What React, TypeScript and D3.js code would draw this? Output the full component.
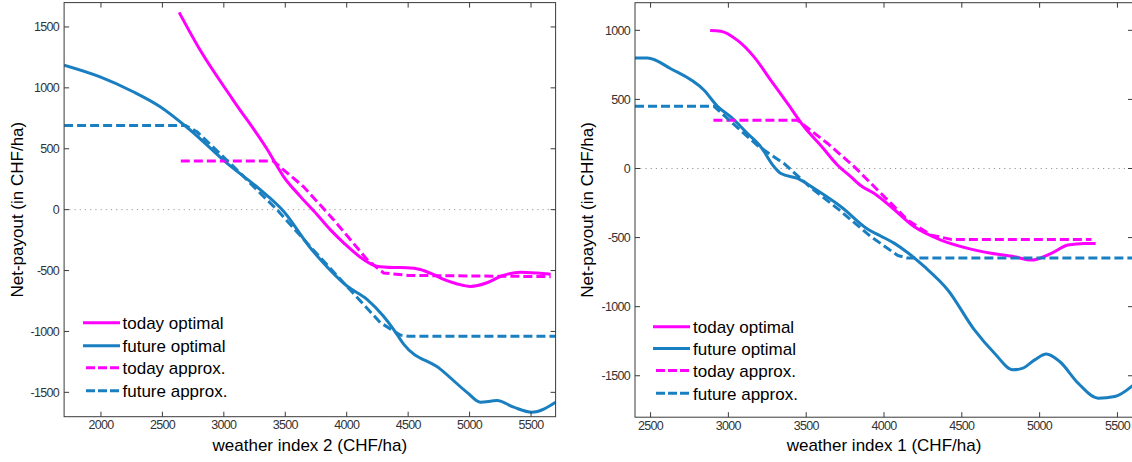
import React from "react";
import * as d3 from "d3";

// ---------- Left panel (weather index 2) ----------
const leftTodayOptX = [2636, 2807, 3076, 3350, 3486, 3622, 3758, 3866, 3975, 4137, 4246, 4380, 4490, 4599, 4700, 4789, 4900, 5006, 5142, 5260, 5413, 5550, 5660];
const leftTodayOptY = [1620, 1310, 900, 500, 272, 109, -40, -164, -272, -409, -464, -475, -477, -491, -530, -573, -610, -630, -600, -545, -513, -520, -530];

const leftFutureOptX = [1700, 1993, 2262, 2482, 2726, 3025, 3296, 3486, 3703, 3785, 4002, 4165, 4298, 4381, 4463, 4762, 4979, 5088, 5223, 5359, 5508, 5700];
const leftFutureOptY = [1186, 1090, 968, 845, 654, 382, 164, -14, -313, -409, -627, -736, -873, -982, -1104, -1309, -1500, -1581, -1568, -1622, -1663, -1581];

const leftTodayAppX = [2650, 3400, 3647, 3893, 4165, 4300, 4500, 5660];
const leftTodayAppY = [400, 400, 190, -82, -409, -520, -540, -550];

const leftFutureAppX = [1700, 2690, 2781, 3079, 3296, 3432, 3700, 4029, 4273, 4436, 4500, 5700];
const leftFutureAppY = [690, 690, 640, 354, 136, 0, -300, -660, -927, -1030, -1040, -1040];

// ---------- Right panel (weather index 1) ----------
const rightTodayOptX = [2883, 2951, 3059, 3166, 3273, 3381, 3488, 3595, 3702, 3788, 3852, 3938, 4045, 4195, 4367, 4539, 4689, 4839, 4946, 5075, 5182, 5289, 5360];
const rightTodayOptY = [999, 994, 927, 806, 638, 470, 300, 165, 24, -61, -125, -181, -277, -422, -518, -578, -614, -639, -663, -614, -554, -542, -542];

const rightFutureOptX = [2400, 2480, 2630, 2844, 2930, 3016, 3123, 3209, 3294, 3338, 3445, 3552, 3724, 3896, 3981, 4067, 4153, 4260, 4410, 4581, 4710, 4828, 4893, 4968, 5043, 5129, 5247, 5376, 5483, 5603];
const rightFutureOptY = [799, 799, 722, 566, 450, 373, 253, 156, 12, -36, -72, -145, -277, -440, -490, -542, -610, -711, -879, -1168, -1337, -1457, -1445, -1385, -1342, -1397, -1553, -1662, -1650, -1566];

const rightTodayAppX = [2904, 3445, 3638, 3810, 3960, 4153, 4303, 4432, 5333];
const rightTodayAppY = [350, 349, 181, 12, -157, -374, -482, -513, -513];

const rightFutureAppX = [2400, 2908, 3188, 3359, 3531, 3702, 3917, 4089, 4150, 5600];
const rightFutureAppY = [450, 450, 165, 35, -140, -290, -494, -630, -648, -648];

// ---------- Ticks / labels ----------
const leftXTicks = [2000, 2500, 3000, 3500, 4000, 4500, 5000, 5500];
const leftYTicks = [-1500, -1000, -500, 0, 500, 1000, 1500];
const rightXTicks = [2500, 3000, 3500, 4000, 4500, 5000, 5500];
const rightYTicks = [-1500, -1000, -500, 0, 500, 1000];
const legendLabels = ["today optimal", "future optimal", "today approx.", "future approx."];
const yTitle = "Net-payout (in CHF/ha)";
const leftXTitle = "weather index 2 (CHF/ha)";
const rightXTitle = "weather index 1 (CHF/ha)";

const MAGENTA = "#ff00ff";
const BLUE = "#1a7fc1";
const AXIS = "#3a3a3a";
const FONT = "'Liberation Sans', Arial, Helvetica, sans-serif";

type Series = { xs: number[]; ys: number[]; color: string; dashed: boolean };

type PanelProps = {
  xDomain: [number, number];
  yDomain: [number, number];
  xRange: [number, number];
  yRange: [number, number];
  xTicks: number[];
  yTicks: number[];
  series: Series[];
  xTitle: string;
  yTitleX: number;
  legend: { x0: number; x1: number; tx: number; ys: number[] };
};

function Panel(p: PanelProps) {
  const x = d3.scaleLinear().domain(p.xDomain).range(p.xRange);
  const y = d3.scaleLinear().domain(p.yDomain).range(p.yRange);
  const [x0, x1] = p.xRange;
  const [yb, yt] = p.yRange;
  const tl = 5;
  const clipId = "clip" + Math.round(x0);
  const mk = (s: Series) => {
    const pts: [number, number][] = s.xs.map((v, i) => [v, s.ys[i]]);
    const gen = d3
      .line<[number, number]>()
      .x((d) => x(d[0]))
      .y((d) => y(d[1]))
      .curve(s.dashed ? d3.curveLinear : d3.curveMonotoneX);
    return gen(pts) || "";
  };
  const legendSeries = [p.series[0], p.series[1], p.series[2], p.series[3]];
  return (
    <g>
      <defs>
        <clipPath id={clipId}>
          <rect x={x0} y={yt} width={x1 - x0} height={yb - yt} />
        </clipPath>
      </defs>
      {/* zero dotted line */}
      <line x1={x0} x2={x1} y1={y(0)} y2={y(0)} stroke="#999" strokeWidth={1} strokeDasharray="1.2,4" />
      {/* data */}
      <g clipPath={`url(#${clipId})`}>
        {p.series.map((s, i) => (
          <path
            key={i}
            d={mk(s)}
            fill="none"
            stroke={s.color}
            strokeWidth={3}
            strokeDasharray={s.dashed ? "9,4" : undefined}
            strokeLinejoin="round"
          />
        ))}
      </g>
      {/* box */}
      <rect x={x0} y={yt} width={x1 - x0} height={yb - yt} fill="none" stroke={AXIS} strokeWidth={1} />
      {/* x ticks */}
      {p.xTicks.map((t) => (
        <g key={"x" + t}>
          <line x1={x(t)} x2={x(t)} y1={yb} y2={yb - tl} stroke={AXIS} />
          <line x1={x(t)} x2={x(t)} y1={yt} y2={yt + tl} stroke={AXIS} />
          <text
            x={x(t)}
            y={yb + 12.5}
            textAnchor="middle"
            fontFamily={FONT}
            fontSize={12.5}
            letterSpacing={-0.7}
            fill="#333"
          >
            {t}
          </text>
        </g>
      ))}
      {/* y ticks */}
      {p.yTicks.map((t) => (
        <g key={"y" + t}>
          <line x1={x0} x2={x0 + tl} y1={y(t)} y2={y(t)} stroke={AXIS} />
          <line x1={x1} x2={x1 - tl} y1={y(t)} y2={y(t)} stroke={AXIS} />
          <text
            x={x0 - 5}
            y={y(t) + 4.5}
            textAnchor="end"
            fontFamily={FONT}
            fontSize={12.5}
            letterSpacing={-0.7}
            fill="#333"
          >
            {t}
          </text>
        </g>
      ))}
      {/* titles */}
      <text
        x={(x0 + x1) / 2}
        y={451}
        textAnchor="middle"
        fontFamily={FONT}
        fontSize={17}
        fill="#000"
      >
        {p.xTitle}
      </text>
      <text
        transform={`translate(${p.yTitleX},${(yt + yb) / 2}) rotate(-90)`}
        textAnchor="middle"
        fontFamily={FONT}
        fontSize={17}
        fill="#000"
      >
        {yTitle}
      </text>
      {/* legend */}
      {legendSeries.map((s, i) => (
        <g key={"lg" + i}>
          <line
            x1={s.dashed ? p.legend.x0 + 3 : p.legend.x0}
            x2={p.legend.x1}
            y1={p.legend.ys[i]}
            y2={p.legend.ys[i]}
            stroke={s.color}
            strokeWidth={3}
            strokeDasharray={s.dashed ? "9,3" : undefined}
          />
          <text x={p.legend.tx} y={p.legend.ys[i] + 6.5} fontFamily={FONT} fontSize={17} fill="#000">
            {legendLabels[i]}
          </text>
        </g>
      ))}
    </g>
  );
}

export default function App() {
  const leftSeries: Series[] = [
    { xs: leftTodayOptX, ys: leftTodayOptY, color: MAGENTA, dashed: false },
    { xs: leftFutureOptX, ys: leftFutureOptY, color: BLUE, dashed: false },
    { xs: leftTodayAppX, ys: leftTodayAppY, color: MAGENTA, dashed: true },
    { xs: leftFutureAppX, ys: leftFutureAppY, color: BLUE, dashed: true },
  ];
  const rightSeries: Series[] = [
    { xs: rightTodayOptX, ys: rightTodayOptY, color: MAGENTA, dashed: false },
    { xs: rightFutureOptX, ys: rightFutureOptY, color: BLUE, dashed: false },
    { xs: rightTodayAppX, ys: rightTodayAppY, color: MAGENTA, dashed: true },
    { xs: rightFutureAppX, ys: rightFutureAppY, color: BLUE, dashed: true },
  ];
  return (
    <svg
      width={1132}
      height={462}
      style={{ position: "absolute", left: 0, top: 0, background: "#fff" }}
    >
      <rect x={0} y={0} width={1132} height={462} fill="#fff" />
      <Panel
        xDomain={[1700, 5700]}
        yDomain={[-1700, 1700]}
        xRange={[64.1, 555.6]}
        yRange={[416.7, 2.6]}
        xTicks={leftXTicks}
        yTicks={leftYTicks}
        series={leftSeries}
        xTitle={leftXTitle}
        yTitleX={23}
        legend={{ x0: 83, x1: 120, tx: 122.5, ys: [322.7, 345.7, 367.8, 390.7] }}
      />
      <Panel
        xDomain={[2400, 5600]}
        yDomain={[-1800, 1200]}
        xRange={[635, 1133]}
        yRange={[417.2, 2.7]}
        xTicks={rightXTicks}
        yTicks={rightYTicks}
        series={rightSeries}
        xTitle={rightXTitle}
        yTitleX={593}
        legend={{ x0: 653, x1: 690, tx: 693, ys: [326.7, 348.5, 370.5, 393.3] }}
      />
    </svg>
  );
}
